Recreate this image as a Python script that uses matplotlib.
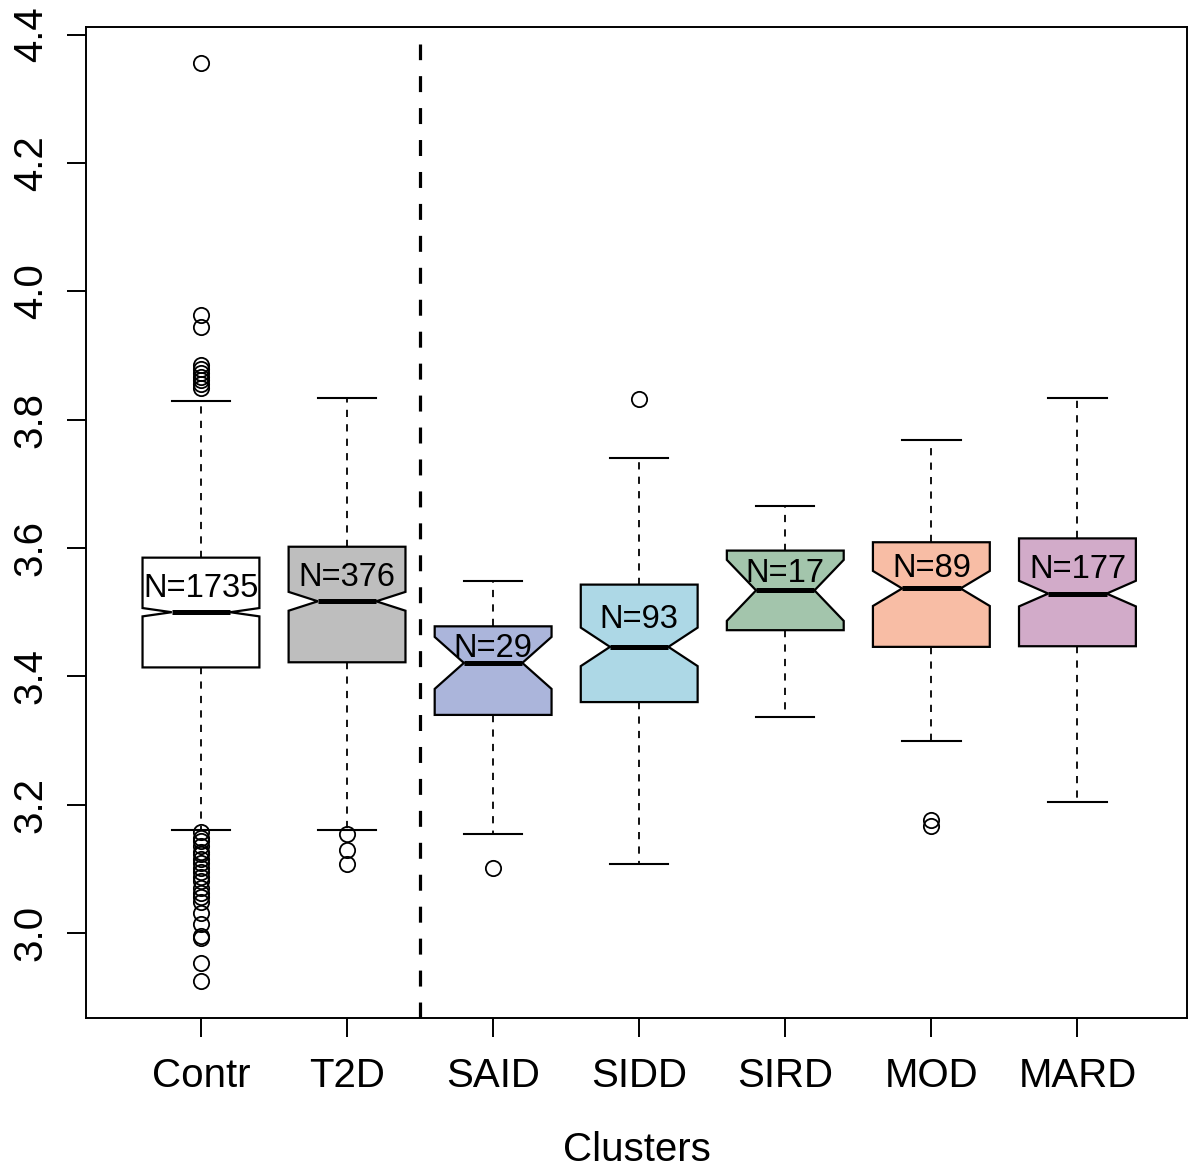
import matplotlib
matplotlib.use("Agg")
import matplotlib.pyplot as plt
import numpy as np

plt.rcParams['font.family'] = ['Liberation Sans', 'DejaVu Sans']

groups = ["Contr", "T2D", "SAID", "SIDD", "SIRD", "MOD", "MARD"]
n_obs = [1735, 376, 29, 93, 17, 89, 177]
whislo = [3.160, 3.160, 3.154, 3.107, 3.336, 3.299, 3.204]
q1 = [3.414, 3.422, 3.340, 3.360, 3.472, 3.446, 3.447]
med = [3.500, 3.517, 3.421, 3.446, 3.534, 3.537, 3.529]
q3 = [3.585, 3.602, 3.478, 3.543, 3.596, 3.609, 3.615]
whishi = [3.829, 3.834, 3.549, 3.740, 3.665, 3.768, 3.834]

out_contr = [4.355, 3.963, 3.945, 3.885, 3.879, 3.873, 3.867, 3.861, 3.855, 3.849,
             3.157, 3.149, 3.143, 3.135, 3.127, 3.123, 3.115, 3.110, 3.102, 3.096,
             3.088, 3.081, 3.071, 3.063, 3.056, 3.049, 3.032, 3.015, 2.995, 2.992,
             2.953, 2.925]
out_t2d = [3.155, 3.130, 3.107]
out_said = [3.101]
out_sidd = [3.832]
out_sird = []
out_mod = [3.177, 3.167]
out_mard = []
outliers = [out_contr, out_t2d, out_said, out_sidd, out_sird, out_mod, out_mard]

colors = ["#FFFFFF", "#BEBEBE", "#ABB5DB", "#ADD8E6", "#A3C5AC", "#F8BDA5", "#D2ABC9"]

fig = plt.figure(figsize=(11.88, 11.69), dpi=100)
ax = fig.add_axes([86 / 1188, 1 - 1018 / 1169, (1187 - 86) / 1188, (1018 - 26.7) / 1169])

stats = []
for i in range(len(groups)):
    iqr = q3[i] - q1[i]
    nh = 1.58 * iqr / np.sqrt(n_obs[i])
    stats.append(dict(med=med[i], q1=q1[i], q3=q3[i], whislo=whislo[i], whishi=whishi[i],
                      cilo=med[i] - nh, cihi=med[i] + nh,
                      fliers=np.array(outliers[i]), label=groups[i]))

positions = np.arange(1, len(groups) + 1)
bp = ax.bxp(stats, positions=positions, widths=0.8, shownotches=True, patch_artist=True,
            boxprops=dict(linewidth=1.6, edgecolor='black'),
            medianprops=dict(color='black', linewidth=3.6, solid_capstyle='butt'),
            whiskerprops=dict(linestyle=(0, (4, 4)), linewidth=1.3, color='black'),
            capprops=dict(linewidth=1.5, color='black'),
            flierprops=dict(marker='o', markerfacecolor='none', markeredgecolor='black',
                            markersize=11, markeredgewidth=1.3, linestyle='none'))
for patch, c in zip(bp['boxes'], colors):
    patch.set_facecolor(c)

for i in range(len(groups)):
    ax.text(positions[i], (med[i] + q3[i]) / 2, f"N={n_obs[i]}", ha='center',
            va='center_baseline', fontsize=23.5)

allv = np.concatenate([np.array(whislo), np.array(whishi)] + [np.array(o) for o in outliers if len(o)])
lo, hi = allv.min(), allv.max()
rng = hi - lo
ylo, yhi = lo - 0.04 * rng, hi + 0.04 * rng
ax.set_ylim(ylo, yhi)
ax.set_xlim(0.213, 7.75)

ax.vlines(2.5, ylo, 4.385, colors='black', linestyles=[(0, (5, 5))], linewidth=2.3)

ax.set_xticks(positions)
ax.set_xticklabels(groups, fontsize=29)
yt = np.arange(3.0, 4.41, 0.2)
ax.set_yticks(yt)
ax.set_yticklabels([f"{v:.1f}" for v in yt], fontsize=29, rotation=90, va='center')
ax.tick_params(axis='both', length=14, width=1.4, pad=12)
ax.tick_params(axis='x', pad=14)
for s in ax.spines.values():
    s.set_linewidth(1.4)
ax.set_xlabel("Clusters", fontsize=29, labelpad=26)

fig.savefig("out.png", dpi=100)
